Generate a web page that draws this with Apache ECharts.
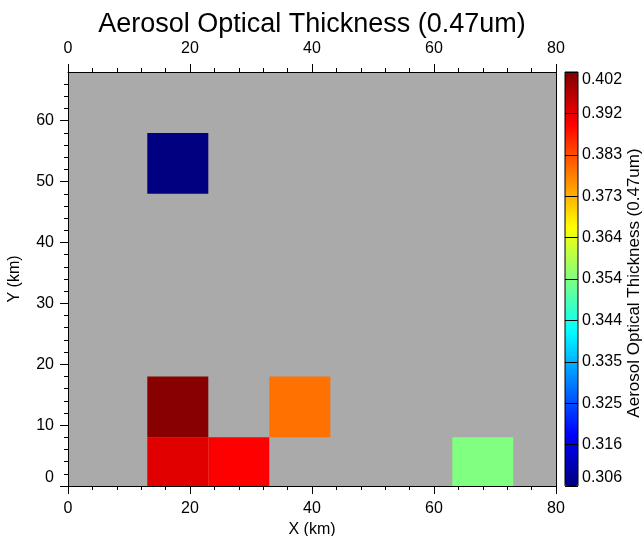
<!DOCTYPE html>
<html>
<head>
<meta charset="utf-8">
<script src="https://cdn.jsdelivr.net/npm/echarts@6/dist/echarts.min.js"></script>
<style>
  html, body { margin: 0; padding: 0; background: #ffffff; }
  #chart { width: 642px; height: 536px; }
</style>
</head>
<body>
<div id="chart"></div>
<script>
// Grid cell centres (km) and the retrieved aerosol optical thickness at 0.47 um
var cellX = [18, 28, 18, 38, 18, 68];
var cellY = [3, 3, 13, 13, 53, 3];
var aot   = [0.3929, 0.390, 0.4012, 0.3794, 0.306, 0.354];

// Axis ticks and colour bar labels
var xTicks = [0, 20, 40, 60, 80];
var yTicks = [0, 10, 20, 30, 40, 50, 60];
var cbTickLabels = ['0.306', '0.316', '0.325', '0.335', '0.344', '0.354',
                    '0.364', '0.373', '0.383', '0.392', '0.402'];
var aotMin = 0.306, aotMax = 0.402;

// Layout / styling constants
var FONT = 'Liberation Sans';
var CELL = 10;                 // cell size in km
var X_MAX = 80, Y_MAX = 68;
var BOX = { left: 68, top: 72, width: 488, height: 414 };
var CB  = { left: 565, top: 72, width: 13, height: 414 };
var JET = ['#000080', '#0000ff', '#0080ff', '#00ffff', '#80ff80',
           '#ffff00', '#ff8000', '#ff0000', '#800000'];

// minor y ticks every 2 km, skipping the labelled ones
var yMinor = [];
for (var v = 2; v < Y_MAX; v += 2) { if (v % 10 !== 0) yMinor.push(v); }

var cells = cellX.map(function (x, i) { return [x, cellY[i], aot[i]]; });

var black = { color: '#000000', width: 1 };
var labelStyle = { color: '#000000', fontSize: 16, fontFamily: FONT };

function renderCell(params, api) {
  var x = api.value(0), y = api.value(1);
  var p0 = api.coord([x - CELL / 2, y + CELL / 2]);
  var p1 = api.coord([x + CELL / 2, y - CELL / 2]);
  var cs = params.coordSys;
  var rect = echarts.graphic.clipRectByRect(
    { x: p0[0], y: p0[1], width: p1[0] - p0[0], height: p1[1] - p0[1] },
    { x: cs.x, y: cs.y, width: cs.width, height: cs.height });
  if (!rect) return;
  return { type: 'rect', shape: rect, style: { fill: api.visual('color') } };
}

function xAxisCfg(pos, withName) {
  var a = {
    gridIndex: 0, type: 'value', position: pos, min: 0, max: X_MAX, interval: 20,
    axisLine: { show: true, onZero: false, lineStyle: black },
    axisTick: { show: true, length: 8, lineStyle: black },
    minorTick: { show: true, splitNumber: 5, length: 4, lineStyle: black },
    axisLabel: Object.assign({ margin: 15 }, labelStyle),
    splitLine: { show: false }
  };
  if (withName) {
    a.name = 'X (km)';
    a.nameLocation = 'middle';
    a.nameGap = 31;
    a.nameTextStyle = labelStyle;
  }
  return a;
}

var chart = echarts.init(document.getElementById('chart'), null, { renderer: 'canvas' });
chart.setOption({
  animation: false,
  textStyle: { fontFamily: FONT },
  grid: [
    { left: BOX.left, top: BOX.top, width: BOX.width, height: BOX.height,
      outerBoundsMode: 'none', containLabel: false,
      show: true, backgroundColor: '#aaaaaa', borderWidth: 0 },
    { left: BOX.left, top: BOX.top, width: BOX.width, height: BOX.height,
      outerBoundsMode: 'none', containLabel: false, show: false },
    { left: CB.left, top: CB.top, width: CB.width, height: CB.height,
      outerBoundsMode: 'none', containLabel: false,
      show: true, backgroundColor: 'transparent', borderColor: '#000000', borderWidth: 1, z: 10 }
  ],
  xAxis: [
    xAxisCfg('bottom', true),
    xAxisCfg('top', false),
    { gridIndex: 1, type: 'value', min: 0, max: X_MAX, show: false },
    { gridIndex: 2, type: 'value', min: 0, max: 1, show: false }
  ],
  yAxis: [
    { gridIndex: 0, type: 'value', position: 'left', min: 0, max: Y_MAX,
      axisLine: { show: true, onZero: false, lineStyle: black },
      axisTick: { show: true, length: 8, customValues: yTicks, lineStyle: black },
      axisLabel: Object.assign({ margin: 14, customValues: yTicks, verticalAlignMinLabel: 'bottom' }, labelStyle),
      splitLine: { show: false },
      name: 'Y (km)', nameLocation: 'middle', nameGap: 45, nameTextStyle: labelStyle },
    { gridIndex: 0, type: 'value', position: 'right', min: 0, max: Y_MAX,
      axisLine: { show: true, onZero: false, lineStyle: black },
      axisTick: { show: false }, axisLabel: { show: false }, splitLine: { show: false } },
    { gridIndex: 1, type: 'value', position: 'left', min: 0, max: Y_MAX,
      axisLine: { show: false },
      axisTick: { show: true, length: 4, customValues: yMinor, lineStyle: black },
      axisLabel: { show: false }, splitLine: { show: false } },
    { gridIndex: 2, type: 'value', position: 'right', min: 0, max: cbTickLabels.length - 1, interval: 1,
      z: 10,
      axisLine: { show: false }, axisTick: { show: false },
      axisLabel: Object.assign({
        margin: 4,
        verticalAlignMinLabel: 'bottom', verticalAlignMaxLabel: 'top',
        formatter: function (i) { return cbTickLabels[Math.round(i)]; }
      }, labelStyle),
      splitLine: { show: true, lineStyle: black } }
  ],
  visualMap: {
    type: 'continuous', min: aotMin, max: aotMax, dimension: 2, seriesIndex: 0,
    calculable: false, realtime: false, orient: 'vertical',
    left: CB.left, top: CB.top, itemWidth: CB.width, itemHeight: CB.height,
    padding: 0, text: null, showLabel: false, z: 2,
    inRange: { color: JET }
  },
  graphic: [
    { type: 'text', x: 312, y: 25, z: 20,
      style: { text: 'Aerosol Optical Thickness (0.47um)', fill: '#000000',
               font: '27px "Liberation Sans"', textAlign: 'center', textVerticalAlign: 'middle' } },
    { type: 'text', x: 634, y: 283, rotation: Math.PI / 2, z: 20,
      style: { text: 'Aerosol Optical Thickness (0.47um)', fill: '#000000',
               font: '17px "Liberation Sans"', textAlign: 'center', textVerticalAlign: 'middle' } }
  ],
  series: [
    { type: 'custom', xAxisIndex: 0, yAxisIndex: 0, coordinateSystem: 'cartesian2d',
      renderItem: renderCell, encode: { x: 0, y: 1 }, data: cells, silent: true }
  ]
});
</script>
</body>
</html>
